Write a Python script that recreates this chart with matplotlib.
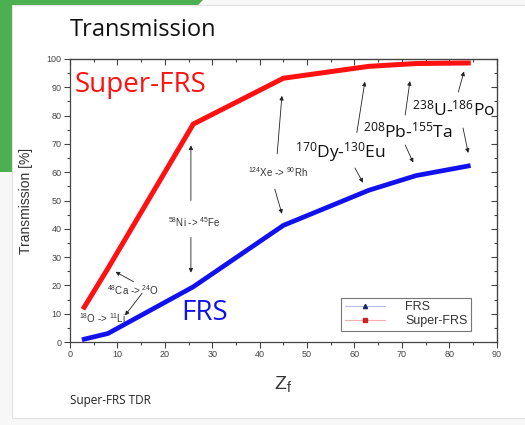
import matplotlib.pyplot as plt
from matplotlib.lines import Line2D
from matplotlib.patches import Polygon, Rectangle

# fragment charge Z_f and transmission [%] for both separators
z_f = [3, 8, 26, 45, 63, 73, 84]
frs = [1.0, 3.0, 19.5, 41.2, 53.6, 58.8, 62.2]
super_frs = [12.3, 26.0, 77.0, 93.2, 97.4, 98.4, 98.6]

# small reaction labels: (text, text x, text y, [(arrow tail, arrow head), ...])
small_notes = [
    (r"$\mathregular{^{18}}$O -> $\mathregular{^{11}}$Li", 6.8, 8.6, []),
    (r"$\mathregular{^{48}}$Ca -> $\mathregular{^{24}}$O", 13.3, 18.4,
     [((13.4, 21.3), (9.6, 24.8)), ((15.2, 17.2), (11.6, 9.4))]),
    (r"$\mathregular{^{58}}$Ni -> $\mathregular{^{45}}$Fe", 26.3, 42.3,
     [((25.5, 50.0), (25.5, 69.5)), ((25.5, 37.0), (25.5, 24.5))]),
    (r"$\mathregular{^{124}}$Xe -> $\mathregular{^{90}}$Rh", 43.8, 60.0,
     [((43.7, 66.5), (44.7, 87.0)), ((43.2, 54.0), (44.7, 45.3))]),
]
big_notes = [
    (r"$\mathregular{^{170}}$Dy-$\mathregular{^{130}}$Eu", 57.0, 67.0,
     [((60.5, 74.0), (62.2, 92.0)), ((60.1, 61.5), (61.8, 56.3))]),
    (r"$\mathregular{^{208}}$Pb-$\mathregular{^{155}}$Ta", 71.3, 74.5,
     [((70.7, 80.2), (71.7, 92.2)), ((70.7, 69.6), (72.4, 63.4))]),
    (r"$\mathregular{^{238}}$U-$\mathregular{^{186}}$Po", 80.8, 82.2,
     [((81.9, 88.3), (83.1, 95.6)), ((82.9, 75.6), (84.0, 66.8))]),
]

fig = plt.figure(figsize=(5.25, 4.25), dpi=100, facecolor="#f7f7f7")

# slide decoration: green corner and white card
fig.patches.append(Polygon([[0, 1], [203 / 525, 1], [198 / 525, 1 - 5 / 425],
                            [12 / 525, 1 - 5 / 425], [12 / 525, 1 - 172 / 425],
                            [0, 1 - 172 / 425]],
                           closed=True, transform=fig.transFigure,
                           facecolor="#4caf50", edgecolor="none", zorder=-2))
fig.patches.append(Rectangle((12 / 525, 1 - 418 / 425), 1, 413 / 425,
                             transform=fig.transFigure, facecolor="white",
                             edgecolor="#e2e2e2", lw=0.8, zorder=-2))

fig.text(70 / 525, 1 - 36 / 425, "Transmission", family="Open Sans",
         fontsize=17, color="#111111", ha="left", va="baseline")
fig.text(70 / 525, 1 - 404 / 425, "Super-FRS TDR", family="Open Sans",
         fontsize=8.5, color="#222222", ha="left", va="baseline")

ax = fig.add_axes([70 / 525, 1 - 342 / 425, 426.7 / 525, 283 / 425])
ax.set_zorder(1)
ax.set_facecolor("white")

ax.plot(z_f, super_frs, color="#ff1111", lw=3.6, solid_joinstyle="miter",
        zorder=3)
ax.plot(z_f, frs, color="#1111ee", lw=3.4, solid_joinstyle="miter", zorder=3)

ax.set_xlim(0, 90)
ax.set_ylim(0, 100)
ax.set_xticks(range(0, 91, 10))
ax.set_yticks(range(0, 101, 10))
ax.set_xticks(range(5, 90, 10), minor=True)
ax.set_yticks(range(5, 100, 10), minor=True)
ax.tick_params(which="both", direction="out", colors="#444444",
               labelsize=6.5, width=0.8)
ax.tick_params(which="major", length=4, pad=2)
ax.tick_params(which="minor", length=2.5)
for tl in ax.get_xticklabels() + ax.get_yticklabels():
    tl.set_family("Liberation Sans")
for sp in ax.spines.values():
    sp.set_color("#444444")
    sp.set_linewidth(0.9)

# inward ticks on the top and right edges
for side in ("top", "right"):
    twin = ax.secondary_xaxis("top") if side == "top" else ax.secondary_yaxis("right")
    twin.tick_params(which="both", direction="in", colors="#444444", width=0.8)
    twin.tick_params(which="major", length=4)
    twin.tick_params(which="minor", length=2.5)
    if side == "top":
        twin.set_xticks(range(0, 91, 10))
        twin.set_xticks(range(5, 90, 10), minor=True)
        twin.set_xticklabels([])
    else:
        twin.set_yticks(range(0, 101, 10))
        twin.set_yticks(range(5, 100, 10), minor=True)
        twin.set_yticklabels([])

ax.set_ylabel("Transmission [%]", family="Liberation Sans", fontsize=10,
              color="#333333", labelpad=10)
ax.set_xlabel(r"Z$_\mathregular{f}$", family="Liberation Sans", fontsize=14,
              color="#333333", labelpad=11)

ax.text(1.0, 90.8, "Super-FRS", family="Open Sans", fontsize=20,
        color="#ff1111", ha="left", va="center")
ax.text(23.5, 10.4, "FRS", family="Open Sans", fontsize=20, color="#1111ee",
        ha="left", va="center")

arrow = dict(arrowstyle="-|>", color="#222222", lw=0.6, mutation_scale=6,
             shrinkA=0, shrinkB=0)
for label, tx, ty, arrows in small_notes:
    ax.text(tx, ty, label, family="Liberation Sans", fontsize=7,
            color="#333333", ha="center", va="center")
    for tail, head in arrows:
        ax.annotate("", xy=head, xytext=tail, arrowprops=arrow)
for label, tx, ty, arrows in big_notes:
    ax.text(tx, ty, label, family="Open Sans", fontsize=12.5,
            color="#111111", ha="center", va="center")
    for tail, head in arrows:
        ax.annotate("", xy=head, xytext=tail, arrowprops=arrow)

handles = [
    Line2D([], [], color="#b8bce8", lw=0.8, marker="^", markersize=3,
           markerfacecolor="#1a2a6c", markeredgecolor="#1a2a6c"),
    Line2D([], [], color="#f2b0b0", lw=0.8, marker="s", markersize=3,
           markerfacecolor="#d42020", markeredgecolor="#d42020"),
]
leg = ax.legend(handles, ["FRS", "Super-FRS"], loc="lower right",
                bbox_to_anchor=(0.94, 0.039), fancybox=False, frameon=True,
                prop={"family": "Liberation Sans", "size": 9},
                handlelength=3.2, handletextpad=1.6, borderpad=0.3,
                borderaxespad=0, labelspacing=0.15)
leg.get_frame().set_edgecolor("#555555")
leg.get_frame().set_linewidth(0.8)
leg._legend_box.align = "left"
for t in leg.get_texts():
    t.set_color("#333333")

fig.savefig("out.png", dpi=100, facecolor=fig.get_facecolor())
